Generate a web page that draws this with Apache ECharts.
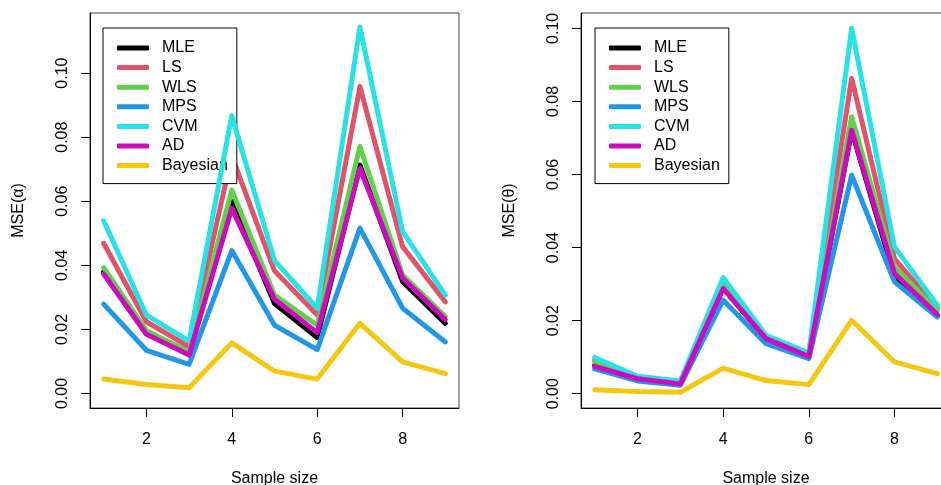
<!DOCTYPE html>
<html>
<head>
<meta charset="utf-8">
<script src="https://cdn.jsdelivr.net/npm/echarts@6/dist/echarts.min.js"></script>
<style>
  html, body { margin: 0; padding: 0; background: #fff; }
  #chart { width: 941px; height: 485px; }
</style>
</head>
<body>
<div id="chart"></div>
<script>
// sample size index on the x axis
const sampleSize = [1, 2, 3, 4, 5, 6, 7, 8, 9];
const methods = ['MLE', 'LS', 'WLS', 'MPS', 'CVM', 'AD', 'Bayesian'];
const colors = ['#000000', '#DF536B', '#61D04F', '#2297E6', '#28E2E5', '#CD0BBC', '#F5C710'];
const xTicks = [2, 4, 6, 8];
const yTicksAlpha = [0, 0.02, 0.04, 0.06, 0.08, 0.10];
const yTicksTheta = [0, 0.02, 0.04, 0.06, 0.08, 0.10];

// MSE(alpha)
const alphaMLE = [0.0380, 0.0190, 0.0125, 0.0599, 0.0281, 0.0175, 0.0713, 0.0349, 0.0219];
const alphaLS = [0.0469, 0.0224, 0.0146, 0.0742, 0.0383, 0.0245, 0.0958, 0.0458, 0.0286];
const alphaWLS = [0.0393, 0.0196, 0.0130, 0.0635, 0.0307, 0.0213, 0.0771, 0.0370, 0.0240];
const alphaMPS = [0.0279, 0.0135, 0.0091, 0.0446, 0.0213, 0.0137, 0.0516, 0.0266, 0.0161];
const alphaCVM = [0.0539, 0.0245, 0.0164, 0.0867, 0.0415, 0.0266, 0.1144, 0.0505, 0.0307];
const alphaAD = [0.0373, 0.0185, 0.0120, 0.0578, 0.0294, 0.0190, 0.0703, 0.0360, 0.0231];
const alphaBayes = [0.0045, 0.0028, 0.0018, 0.0158, 0.0070, 0.0045, 0.0219, 0.0099, 0.0062];

// MSE(theta)
const thetaMLE = [0.0078, 0.0042, 0.0028, 0.0290, 0.0150, 0.0102, 0.0720, 0.0320, 0.0214];
const thetaLS = [0.0092, 0.0045, 0.0032, 0.0300, 0.0155, 0.0108, 0.0863, 0.0370, 0.0233];
const thetaWLS = [0.0088, 0.0044, 0.0030, 0.0295, 0.0153, 0.0105, 0.0758, 0.0347, 0.0228];
const thetaMPS = [0.0068, 0.0035, 0.0023, 0.0256, 0.0137, 0.0096, 0.0598, 0.0306, 0.0210];
const thetaCVM = [0.0099, 0.0048, 0.0035, 0.0318, 0.0160, 0.0112, 0.1000, 0.0402, 0.0242];
const thetaAD = [0.0075, 0.0041, 0.0027, 0.0288, 0.0151, 0.0102, 0.0721, 0.0329, 0.0217];
const thetaBayes = [0.0011, 0.0006, 0.0004, 0.0070, 0.0036, 0.0025, 0.0201, 0.0087, 0.0055];

const alphaSeries = [alphaMLE, alphaLS, alphaWLS, alphaMPS, alphaCVM, alphaAD, alphaBayes];
const thetaSeries = [thetaMLE, thetaLS, thetaWLS, thetaMPS, thetaCVM, thetaAD, thetaBayes];

const FONT = '"Liberation Sans", Arial, sans-serif';

function pairs(values) {
  return sampleSize.map((x, i) => [x, values[i]]);
}

function makeX(gridIndex) {
  return {
    type: 'value', gridIndex: gridIndex, min: 0.68, max: 9.32,
    name: 'Sample size', nameLocation: 'middle', nameGap: 63,
    nameTextStyle: { fontFamily: FONT, fontSize: 16, color: '#000' },
    axisLine: { show: true, onZero: false, lineStyle: { color: '#000', width: 1 } },
    axisTick: { show: true, length: 9, customValues: xTicks, lineStyle: { color: '#000' } },
    axisLabel: { customValues: xTicks, margin: 24, fontFamily: FONT, fontSize: 16, color: '#000' },
    splitLine: { show: false }
  };
}

function makeY(gridIndex, name, lo, hi, ticks, gap) {
  return {
    type: 'value', gridIndex: gridIndex, min: lo, max: hi,
    name: name, nameLocation: 'middle', nameGap: gap, nameRotate: 90,
    nameTextStyle: { fontFamily: FONT, fontSize: 16, color: '#000' },
    axisLine: { show: true, onZero: false, lineStyle: { color: '#000', width: 1 } },
    axisTick: { show: true, length: 9, customValues: ticks, lineStyle: { color: '#000' } },
    axisLabel: {
      customValues: ticks, rotate: 90, margin: 19, fontFamily: FONT, fontSize: 16, color: '#000',
      formatter: v => v.toFixed(2)
    },
    splitLine: { show: false }
  };
}

function makeLegend(left) {
  return {
    orient: 'vertical', left: left, top: 28,
    data: methods.map(m => ({ name: m, icon: 'roundRect' })),
    itemWidth: 32, itemHeight: 5, itemGap: 3.6,
    padding: [12, 9, 10, 14],
    borderColor: '#000', borderWidth: 1,
    backgroundColor: '#fff',
    selectedMode: false,
    textStyle: { fontFamily: FONT, fontSize: 16, color: '#000', padding: [0, 0, 0, 8] }
  };
}

const series = [];
methods.forEach((m, i) => {
  series.push({
    name: m, type: 'line', xAxisIndex: 0, yAxisIndex: 0,
    data: pairs(alphaSeries[i]), symbol: 'none', z: 2 + i,
    lineStyle: { color: colors[i], width: 5, cap: 'round', join: 'round' },
    itemStyle: { color: colors[i] }
  });
  series.push({
    name: m, type: 'line', xAxisIndex: 1, yAxisIndex: 1,
    data: pairs(thetaSeries[i]), symbol: 'none', z: 2 + i,
    lineStyle: { color: colors[i], width: 5, cap: 'round', join: 'round' },
    itemStyle: { color: colors[i] }
  });
});

const chart = echarts.init(document.getElementById('chart'), null, { renderer: 'canvas' });
chart.setOption({
  animation: false,
  backgroundColor: '#fff',
  color: colors,
  grid: [
    { left: 90, top: 13, width: 369, height: 395, outerBoundsMode: 'none', containLabel: false,
      show: true, borderColor: '#444', borderWidth: 1, backgroundColor: 'transparent' },
    { left: 581, top: 13, width: 370, height: 395, outerBoundsMode: 'none', containLabel: false,
      show: true, borderColor: '#444', borderWidth: 1, backgroundColor: 'transparent' }
  ],
  xAxis: [makeX(0), makeX(1)],
  yAxis: [
    makeY(0, 'MSE(α)', -0.00452, 0.11876, yTicksAlpha, 63),
    makeY(1, 'MSE(θ)', -0.0039, 0.1042, yTicksTheta, 63)
  ],
  legend: [makeLegend(103), makeLegend(595)],
  series: series
});
</script>
</body>
</html>
